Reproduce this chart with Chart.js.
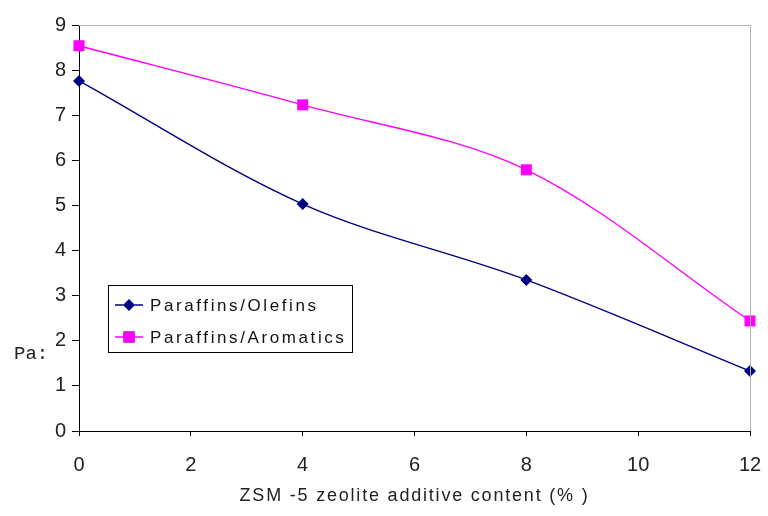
<!DOCTYPE html>
<html>
<head>
<meta charset="utf-8">
<script src="https://cdn.jsdelivr.net/npm/chart.js@4/dist/chart.umd.min.js"></script>
<style>
  html, body { margin: 0; padding: 0; background: #fff; }
  #wrap { width: 768px; height: 516px; position: relative; }
</style>
</head>
<body>
<div id="wrap"><canvas id="c" width="768" height="516"></canvas></div>
<script>
// ZSM-5 additive content (%)
const additive = [0, 4, 8, 12];
// Ratio series
const paraffinsOlefins = [7.76, 5.03, 3.35, 1.33];
const paraffinsAromatics = [8.54, 7.23, 5.79, 2.44];
const seriesNames = ['Paraffins/Olefins', 'Paraffins/Aromatics'];
const xTicks = [0, 2, 4, 6, 8, 10, 12];
const yTicks = [0, 1, 2, 3, 4, 5, 6, 7, 8, 9];
const xTitle = 'ZSM -5 zeolite additive content (% )';
const yTitle = 'Pa:';

const toPoints = (ys) => ys.map((y, i) => ({ x: additive[i], y }));

// Frame, axis titles and an in-plot legend box
const decorations = {
  id: 'decorations',
  afterDraw(chart) {
    const { ctx, chartArea: a } = chart;
    ctx.save();
    // grey top and right frame
    ctx.strokeStyle = '#b4b4b4';
    ctx.lineWidth = 1;
    ctx.beginPath();
    ctx.moveTo(a.left, a.top + 0.5);
    ctx.lineTo(a.right + 0.5, a.top + 0.5);
    ctx.lineTo(a.right + 0.5, a.bottom);
    ctx.stroke();

    // x title
    ctx.fillStyle = '#222';
    ctx.font = '18px "Liberation Sans", Arial, sans-serif';
    ctx.letterSpacing = '1.8px';
    ctx.textAlign = 'center';
    ctx.textBaseline = 'middle';
    ctx.fillText(xTitle, (a.left + a.right) / 2, 496);

    // y title
    ctx.letterSpacing = '0px';
    ctx.font = '19px "Liberation Mono", "Courier New", monospace';
    ctx.textAlign = 'left';
    ctx.fillText(yTitle, 14, 354);

    // legend
    const bx = 108.5, by = 285.5, bw = 244, bh = 67;
    ctx.fillStyle = '#fff';
    ctx.fillRect(bx, by, bw, bh);
    ctx.strokeStyle = '#000';
    ctx.strokeRect(bx, by, bw, bh);
    const rows = [305, 337];
    chart.data.datasets.forEach((ds, i) => {
      const y = rows[i];
      ctx.strokeStyle = ds.borderColor;
      ctx.lineWidth = 1.5;
      ctx.beginPath();
      ctx.moveTo(115, y);
      ctx.lineTo(143, y);
      ctx.stroke();
      Chart.helpers.drawPoint(ctx, {
        pointStyle: ds.pointStyle,
        radius: ds.pointRadius,
        borderWidth: 0
      }, 129, y);
      ctx.fillStyle = ds.pointBackgroundColor;
      ctx.fill();
      ctx.fillStyle = '#111';
      ctx.font = '17px "Liberation Sans", Arial, sans-serif';
      ctx.letterSpacing = '2.6px';
      ctx.textAlign = 'left';
      ctx.textBaseline = 'middle';
      ctx.fillText(ds.label, 150, y + 1);
    });
    ctx.restore();
  }
};

new Chart(document.getElementById('c'), {
  type: 'line',
  data: {
    datasets: [
      {
        label: seriesNames[0],
        data: toPoints(paraffinsOlefins),
        borderColor: '#000080',
        backgroundColor: '#000080',
        pointBackgroundColor: '#000080',
        pointBorderColor: '#000080',
        pointStyle: 'rectRot',
        pointRadius: 6,
        pointBorderWidth: 0,
        borderWidth: 1.4,
        tension: 0.33
      },
      {
        label: seriesNames[1],
        data: toPoints(paraffinsAromatics),
        borderColor: '#ff00ff',
        backgroundColor: '#ff00ff',
        pointBackgroundColor: '#ff00ff',
        pointBorderColor: '#ff00ff',
        pointStyle: 'rect',
        pointRadius: 7.8,
        pointBorderWidth: 0,
        borderWidth: 1.4,
        tension: 0.33
      }
    ]
  },
  options: {
    responsive: false,
    animation: false,
    clip: false,
    layout: { padding: { left: 0, top: 25, right: 18, bottom: 0 } },
    plugins: { legend: { display: false }, tooltip: { enabled: false } },
    scales: {
      x: {
        type: 'linear',
        min: 0, max: 12,
        afterBuildTicks(s) { s.ticks = xTicks.map(v => ({ value: v })); },
        afterFit(s) { s.height = 85; s.paddingLeft = 0; s.paddingRight = 0; },
        grid: { drawOnChartArea: false, drawTicks: true, tickLength: 5, color: '#000', lineWidth: 1 },
        border: { color: '#000', width: 1 },
        ticks: { color: '#222', font: { family: '"Liberation Sans", Arial, sans-serif', size: 20 }, padding: 17, maxRotation: 0 }
      },
      y: {
        min: 0, max: 9,
        afterBuildTicks(s) { s.ticks = yTicks.map(v => ({ value: v })); },
        afterFit(s) { s.width = 79; s.paddingTop = 0; s.paddingBottom = 0; },
        grid: { drawOnChartArea: false, drawTicks: true, tickLength: 7, color: '#000', lineWidth: 1 },
        border: { color: '#000', width: 1 },
        ticks: { color: '#222', font: { family: '"Liberation Sans", Arial, sans-serif', size: 20 }, padding: 6 }
      }
    }
  },
  plugins: [decorations]
});
</script>
</body>
</html>
